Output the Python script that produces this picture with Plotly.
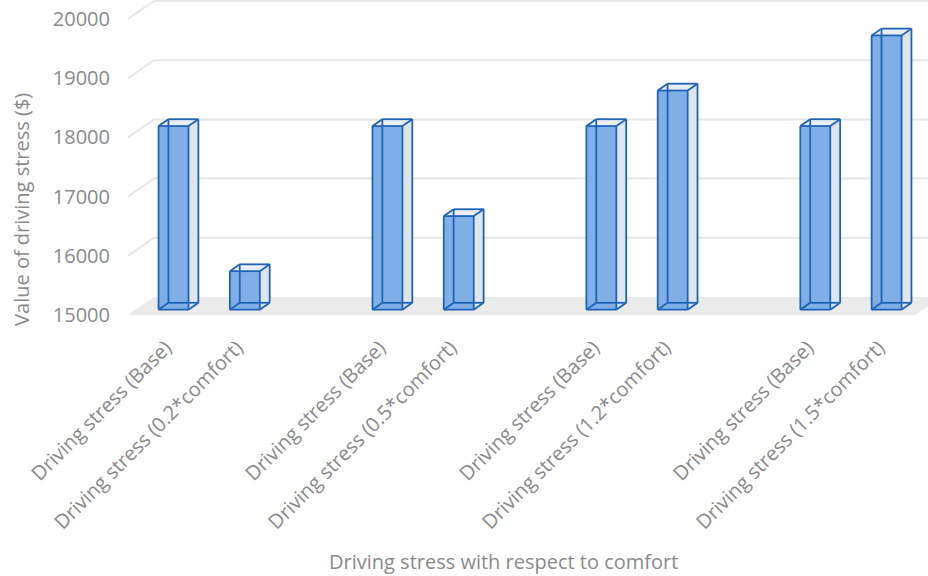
import plotly.graph_objects as go

# ---------------- data ----------------
categories = [
    "Driving stress (Base)", "Driving stress (0.2*comfort)",
    "Driving stress (Base)", "Driving stress (0.5*comfort)",
    "Driving stress (Base)", "Driving stress (1.2*comfort)",
    "Driving stress (Base)", "Driving stress (1.5*comfort)",
]
values = [18100, 15650, 18100, 16580, 18100, 18700, 18100, 19630]
group = [0, 0, 1, 1, 2, 2, 3, 3]
slot = [0, 1, 0, 1, 0, 1, 0, 1]
y_ticks = [15000, 16000, 17000, 18000, 19000, 20000]
y_title = "Value of driving stress ($)"
x_title = "Driving stress with respect to comfort"

# ---------------- styling / projection ----------------
BASE = 15000
XL, XR = -0.529, 10.69          # x axis range
YLO, YHI = 14950, 20320         # y axis range
FLOOR_R = 10.51
DX, DV = 0.3646, 304            # depth offset (x units, y units)
ZF, ZB = 0.30, 0.68             # bar depth span
W = 0.42                        # bar width
GREY = "#8a8a8a"
FONT = "Open Sans"
FS = 20
EDGE = "#1f63b5"

pos = [g * 3 + s for g, s in zip(group, slot)]


def P(x, v, z):
    return x + z * DX, v + z * DV


fig = go.Figure()

# floor
fx, fy = zip(P(XL, BASE, 0), P(FLOOR_R, BASE, 0), P(FLOOR_R, BASE, 1), P(XL, BASE, 1), P(XL, BASE, 0))
fig.add_trace(go.Scatter(x=fx, y=fy, fill="toself", fillcolor="#ebebeb", mode="lines",
                         line=dict(width=0), hoverinfo="skip", showlegend=False))

# gridlines (perspective)
gx, gy = [], []
for v in y_ticks[1:]:
    for pt in (P(XL, v, 0), P(XL, v, 1), P(XR + 2, v, 1)):
        gx.append(pt[0]); gy.append(pt[1])
    gx.append(None); gy.append(None)
fig.add_trace(go.Scatter(x=gx, y=gy, mode="lines", line=dict(color="#e6e6e6", width=2),
                         hoverinfo="skip", showlegend=False))

# bars
for p, v in zip(pos, values):
    x0, x1 = p - W / 2, p + W / 2
    fbl, fbr, ftl, ftr = P(x0, BASE, ZF), P(x1, BASE, ZF), P(x0, v, ZF), P(x1, v, ZF)
    bbl, bbr, btl, btr = P(x0, BASE, ZB), P(x1, BASE, ZB), P(x0, v, ZB), P(x1, v, ZB)

    def poly(pts, color):
        xs = [q[0] for q in pts] + [pts[0][0]]
        ys = [q[1] for q in pts] + [pts[0][1]]
        fig.add_trace(go.Scatter(x=xs, y=ys, fill="toself", fillcolor=color, mode="lines",
                                 line=dict(width=0), hoverinfo="skip", showlegend=False))

    poly([fbr, bbr, btr, ftr], "#dfe5ee")   # side face
    poly([ftl, ftr, btr, btl], "#e9eef6")   # top face
    poly([fbl, fbr, ftr, ftl], "#80afe8")   # front face

    edges = [(fbl, fbr), (fbr, ftr), (ftr, ftl), (ftl, fbl),
             (bbl, bbr), (bbr, btr), (btr, btl), (btl, bbl),
             (fbl, bbl), (fbr, bbr), (ftl, btl), (ftr, btr)]
    ex, ey = [], []
    for a, b in edges:
        ex += [a[0], b[0], None]
        ey += [a[1], b[1], None]
    fig.add_trace(go.Scatter(x=ex, y=ey, mode="lines", line=dict(color=EDGE, width=1.8),
                             hoverinfo="skip", showlegend=False))

fig.update_layout(
    width=928, height=576,
    margin=dict(l=128, r=0, t=0, b=258),
    paper_bgcolor="white", plot_bgcolor="white",
    font=dict(family=FONT, color=GREY, size=FS),
    xaxis=dict(range=[XL, XR], tickvals=pos, ticktext=categories, tickangle=-45,
               showgrid=False, zeroline=False, showline=False, ticks="",
               ticklabelstandoff=13, tickfont=dict(size=FS, color=GREY, family=FONT)),
    yaxis=dict(range=[YLO, YHI], tickvals=y_ticks, ticktext=[str(t) for t in y_ticks],
               showgrid=False, zeroline=False, showline=False, ticks="",
               ticklabelstandoff=17, tickfont=dict(size=FS, color=GREY, family=FONT)),
    annotations=[
        dict(text=y_title, xref="paper", yref="paper", x=-0.1325, y=0.34, textangle=-90,
             showarrow=False, xanchor="center", yanchor="middle",
             font=dict(size=FS, color=GREY, family=FONT)),
        dict(text=x_title, xref="paper", yref="paper", x=0.469, y=-0.765,
             showarrow=False, xanchor="center", yanchor="middle",
             font=dict(size=FS, color=GREY, family=FONT)),
    ],
)

fig.write_html("out.html")
